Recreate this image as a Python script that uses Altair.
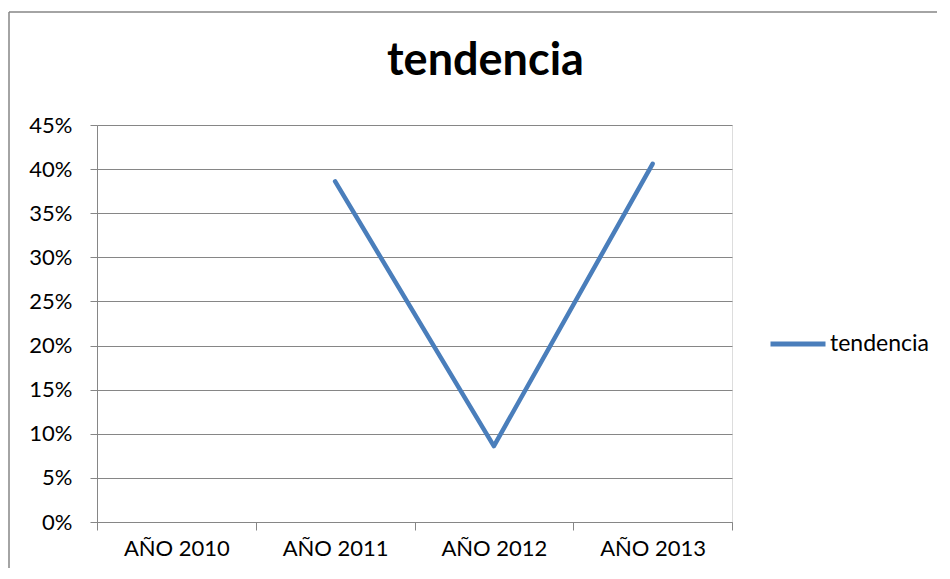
import altair as alt
import pandas as pd

categories = ["AÑO 2010", "AÑO 2011", "AÑO 2012", "AÑO 2013"]
values = [None, 0.386, 0.086, 0.406]
series_name = "tendencia"
y_ticks = [0, 0.05, 0.10, 0.15, 0.20, 0.25, 0.30, 0.35, 0.40, 0.45]

df = pd.DataFrame({"year": categories, "value": values, "series": series_name})
df = df.dropna()

FONT = "Lato"
GRAY = "#868686"
BLUE = "#4A7EBB"

line = alt.Chart(df).mark_line(
    strokeWidth=4.5, strokeCap="round", strokeJoin="round"
).encode(
    x=alt.X("year:N", scale=alt.Scale(domain=categories, paddingInner=0, paddingOuter=0),
            sort=categories,
            axis=alt.Axis(title=None, tickBand="extent", tickSize=8, tickColor=GRAY,
                          domainColor=GRAY, labelAngle=0, labelFont=FONT, labelFontSize=22,
                          labelColor="black", labelPadding=8, grid=False)),
    y=alt.Y("value:Q", scale=alt.Scale(domain=[0, 0.45], nice=False),
            axis=alt.Axis(title=None, values=y_ticks, format=".0%", tickSize=7,
                          tickColor=GRAY, domainColor=GRAY, gridColor=GRAY, gridOpacity=1,
                          labelFont=FONT, labelFontSize=22, labelColor="black",
                          labelPadding=18)),
    color=alt.Color("series:N", scale=alt.Scale(range=[BLUE]),
                    legend=alt.Legend(title=None, orient="none", legendX=671, legendY=189,
                                      symbolType="stroke", symbolSize=3025,
                                      symbolStrokeWidth=5, labelFont=FONT,
                                      labelFontSize=23, labelColor="black",
                                      labelOffset=2)),
)

frame = pd.DataFrame({"b": [1]})
border_left = alt.Chart(frame).mark_rule(color=GRAY, strokeWidth=1.5).encode(
    x=alt.value(-88), y=alt.value(-113), y2=alt.value(445)
)
border_top = alt.Chart(frame).mark_rule(color=GRAY, strokeWidth=1.5).encode(
    x=alt.value(-88), x2=alt.value(850), y=alt.value(-113)
)

chart = alt.layer(border_left, border_top, line).properties(
    width=635, height=397,
    title=alt.TitleParams(series_name, font=FONT, fontSize=45, fontWeight="bold",
                          color="black", anchor="middle", dx=71, offset=-109,
                          baseline="alphabetic"),
    autosize=alt.AutoSizeParams(type="none"),
    padding={"left": 89, "top": 117, "right": 205, "bottom": 46},
).configure_view(stroke=None).configure(background="white")

chart.save("out.html", embed_options={"renderer": "svg", "actions": False})
